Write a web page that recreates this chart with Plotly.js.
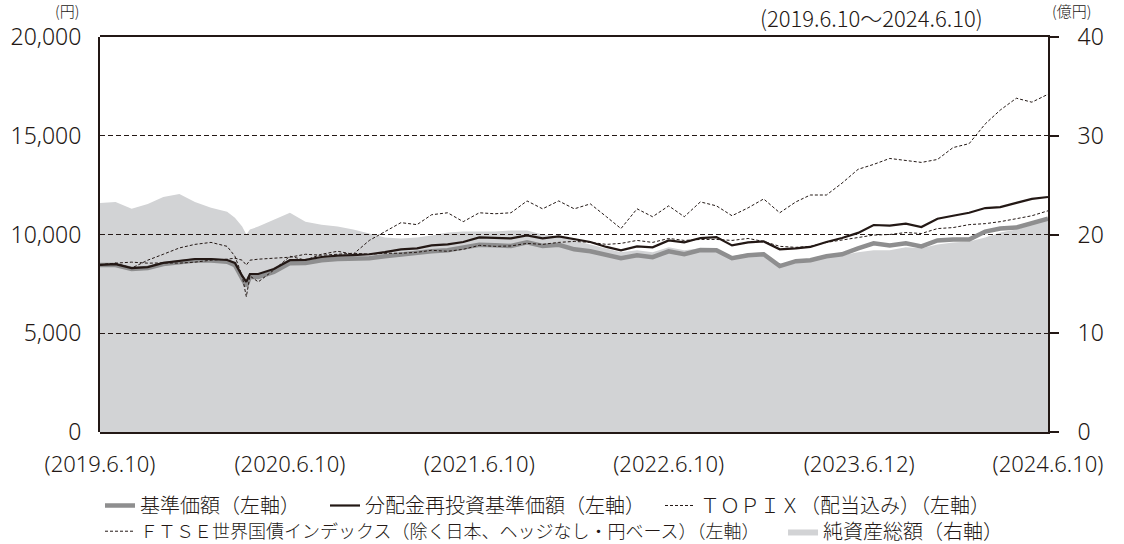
<!DOCTYPE html>
<html>
<head>
<meta charset="utf-8">
<script src="https://cdn.plot.ly/plotly-3.0.1.min.js"></script>
<style>html,body{margin:0;padding:0;background:#fff;}#chart{width:1124px;height:544px;}</style>
</head>
<body>
<div id="chart"></div>
<script>
const dates = [
'2019-06-10','2019-07-10','2019-08-10','2019-09-10','2019-10-10','2019-11-10','2019-12-10',
'2020-01-10','2020-02-10','2020-02-25','2020-03-10','2020-03-18','2020-03-25','2020-04-10','2020-05-10','2020-06-10',
'2020-07-10','2020-08-10','2020-09-10','2020-10-10','2020-11-10','2020-12-10',
'2021-01-10','2021-02-10','2021-03-10','2021-04-10','2021-05-10','2021-06-10','2021-07-10','2021-08-10','2021-09-10','2021-10-10','2021-11-10','2021-12-10',
'2022-01-10','2022-02-10','2022-03-10','2022-04-10','2022-05-10','2022-06-10','2022-07-10','2022-08-10','2022-09-10','2022-10-10','2022-11-10','2022-12-10',
'2023-01-10','2023-02-10','2023-03-10','2023-04-10','2023-05-10','2023-06-10','2023-07-10','2023-08-10','2023-09-10','2023-10-10','2023-11-10','2023-12-10',
'2024-01-10','2024-02-10','2024-03-10','2024-04-10','2024-05-10','2024-06-10'];

// 基準価額（円）
const kijun = [8460,8450,8250,8300,8500,8580,8680,
8680,8620,8450,7750,7400,7850,7850,8100,8550,
8560,8700,8760,8780,8800,8900,
9000,9050,9150,9200,9350,9480,9450,9420,9600,9420,9480,9250,
9150,8950,8800,8950,8850,9150,9000,9210,9200,8800,8950,9000,
8400,8650,8700,8900,9000,9300,9550,9450,9550,9400,9700,9750,
9750,10150,10300,10350,10550,10800];

// 分配金再投資基準価額（円）
const reinvest = [8460,8500,8300,8350,8560,8650,8760,
8760,8710,8560,7900,7600,8000,8000,8250,8700,
8720,8860,8930,8960,9000,9110,
9250,9300,9450,9500,9620,9850,9820,9800,9950,9800,9900,9750,
9620,9370,9200,9400,9350,9700,9600,9820,9870,9450,9600,9650,
9250,9300,9370,9620,9820,10080,10480,10450,10550,10380,10800,10950,
11100,11340,11390,11600,11800,11900];

// ＴＯＰＩＸ（配当込み）
const topix = [8460,8550,8300,8700,9000,9320,9500,
9600,9400,8900,7900,6850,7900,7600,8200,8900,
8700,9000,9150,9000,9700,10150,
10600,10500,11000,11100,10650,11100,11050,11100,11700,11300,11700,11300,
11550,10900,10300,11300,10900,11450,10900,11650,11450,10950,11350,11800,
11100,11650,12000,12000,12600,13300,13550,13850,13750,13650,13800,14400,
14600,15600,16300,16900,16700,17100];

// ＦＴＳＥ世界国債インデックス（除く日本、ヘッジなし・円ベース）
const ftse = [8460,8550,8600,8550,8560,8550,8600,
8700,8750,8800,8700,8450,8700,8750,8800,8850,
9000,8950,9000,9050,9000,9050,
9050,9100,9200,9150,9250,9450,9400,9420,9550,9500,9600,9650,
9600,9500,9550,9700,9600,9800,9700,9750,9750,9700,9800,9650,
9400,9350,9400,9600,9720,9850,9970,10000,10100,10050,10300,10350,
10500,10550,10650,10800,10950,11200];

// 純資産総額（億円）
const netAssets = [23.2,23.3,22.6,23.1,23.8,24.1,23.3,
22.7,22.3,21.7,20.8,20.0,20.5,20.8,21.5,22.2,
21.3,21.0,20.8,20.5,20.1,19.7,
19.6,19.7,19.9,20.2,20.3,20.3,20.3,20.4,20.4,20.0,19.8,19.4,
19.0,18.6,18.2,18.4,18.2,18.7,18.4,18.6,18.5,17.8,18.1,18.2,
17.0,17.4,17.5,17.8,17.9,18.2,18.4,18.4,18.7,18.6,19.0,19.2,
19.3,19.7,20.2,20.5,21.0,21.6];

const xTickDates = ['2019-06-10','2020-06-10','2021-06-10','2022-06-10','2023-06-12','2024-06-10'];
const xTickLabels = ['(2019.6.10)','(2020.6.10)','(2021.6.10)','(2022.6.10)','(2023.6.12)','(2024.6.10)'];
const yLeftTicks = [0,5000,10000,15000,20000];
const yLeftLabels = ['0','5,000','10,000','15,000','20,000'];
const yRightTicks = [0,10,20,30,40];
const yRightLabels = ['0','10','20','30','40'];

const FONT = "'Noto Sans CJK JP', 'Noto Sans', sans-serif";
const NUMFONT = "'Noto Sans', 'Noto Sans CJK JP', sans-serif";
const TXT = '#231815';
const INK = '#231815';

const traces = [
  {x: dates, y: netAssets, xaxis: 'x', yaxis: 'y', type: 'scatter', mode: 'lines',
   line: {width: 0, color: '#d2d3d5'}, fill: 'tozeroy', fillcolor: '#d2d3d5',
   name: '純資産総額（右軸）', legend: 'legend3', hoverinfo: 'skip'},
  {x: dates, y: kijun, xaxis: 'x2', yaxis: 'y2', type: 'scatter', mode: 'lines',
   line: {width: 4.5, color: '#8e8e8f'}, name: '基準価額（左軸）\u3000\u2002', legend: 'legend', legendrank: 1},
  {x: dates, y: reinvest, xaxis: 'x2', yaxis: 'y2', type: 'scatter', mode: 'lines',
   line: {width: 2.2, color: INK}, name: '分配金再投資基準価額（左軸）\u3000', legend: 'legend', legendrank: 2},
  {x: dates, y: topix, xaxis: 'x2', yaxis: 'y2', type: 'scatter', mode: 'lines',
   line: {width: 1, color: INK, dash: '3px,2px'}, name: 'ＴＯＰＩＸ（配当込み）（左軸）', legend: 'legend', legendrank: 3},
  {x: dates, y: ftse, xaxis: 'x2', yaxis: 'y2', type: 'scatter', mode: 'lines',
   line: {width: 1, color: INK, dash: '3px,2px'}, name: 'ＦＴＳＥ世界国債インデックス（除く日本、ヘッジなし・円ベース）（左軸）', legend: 'legend2'}
];

const legendBase = {orientation: 'h', xanchor: 'left', yanchor: 'top',
  bgcolor: 'rgba(0,0,0,0)', borderwidth: 0, itemwidth: 30, traceorder: 'normal'};

const layout = {
  width: 1124, height: 544,
  margin: {l: 100, r: 76, t: 37, b: 112, autoexpand: false},
  paper_bgcolor: '#ffffff', plot_bgcolor: 'rgba(0,0,0,0)',
  font: {family: FONT, color: TXT, size: 20, weight: 300},
  showlegend: true,
  xaxis: {type: 'date', range: ['2019-06-10','2024-06-10'], domain: [0,1], anchor: 'y',
    tickmode: 'array', tickvals: xTickDates, ticktext: xTickLabels,
    showline: true, mirror: true, linecolor: INK, linewidth: 2, ticks: '',
    showgrid: false, zeroline: false, ticklabelstandoff: 12,
    tickfont: {family: NUMFONT, size: 22, color: TXT, weight: 300}, fixedrange: true},
  yaxis: {range: [0,40], side: 'right', anchor: 'x', domain: [0,1],
    tickmode: 'array', tickvals: yRightTicks, ticktext: yRightLabels,
    showline: true, linecolor: INK, linewidth: 2, ticks: 'outside', ticklen: 9, tickwidth: 2, tickcolor: INK,
    ticklabelstandoff: 14,
    showgrid: false, zeroline: false, tickfont: {family: NUMFONT, size: 23, color: TXT, weight: 300}, fixedrange: true},
  xaxis2: {type: 'date', matches: 'x', anchor: 'y2', domain: [0,1], visible: false, showgrid: false, fixedrange: true},
  yaxis2: {range: [0,20000], side: 'left', anchor: 'x2', domain: [0,1],
    tickmode: 'array', tickvals: yLeftTicks, ticktext: yLeftLabels,
    showline: true, linecolor: INK, linewidth: 2, ticks: '',
    showgrid: true, gridcolor: INK, gridwidth: 1, griddash: '5px,3px',
    zeroline: false, ticklabelstandoff: 12, tickfont: {family: NUMFONT, size: 23, color: TXT, weight: 300}, fixedrange: true},
  legend: Object.assign({}, legendBase, {x: 0.0, y: -0.1367, font: {family: FONT, size: 20, color: TXT, weight: 300}}),
  legend2: Object.assign({}, legendBase, {x: 0.0, y: -0.2051, font: {family: FONT, size: 18, color: TXT, weight: 300}}),
  legend3: Object.assign({}, legendBase, {x: 0.7205, y: -0.2025, font: {family: FONT, size: 20, color: TXT, weight: 300}}),
  annotations: [
    {text: '(円)', xref: 'paper', yref: 'paper', x: -0.0348, y: 1.0671, showarrow: false,
     xanchor: 'center', yanchor: 'middle', font: {family: FONT, size: 15, color: TXT, weight: 300}},
    {text: '(2019.6.10～2024.6.10)', xref: 'paper', yref: 'paper', x: 0.8143, y: 1.0506, showarrow: false,
     xanchor: 'center', yanchor: 'middle', font: {family: FONT, size: 22, color: TXT, weight: 300}},
    {text: '(億円)', xref: 'paper', yref: 'paper', x: 1.0243, y: 1.0671, showarrow: false,
     xanchor: 'center', yanchor: 'middle', font: {family: FONT, size: 15, color: TXT, weight: 300}}
  ]
};

Plotly.newPlot('chart', traces, layout, {staticPlot: true, displayModeBar: false});
</script>
</body>
</html>
